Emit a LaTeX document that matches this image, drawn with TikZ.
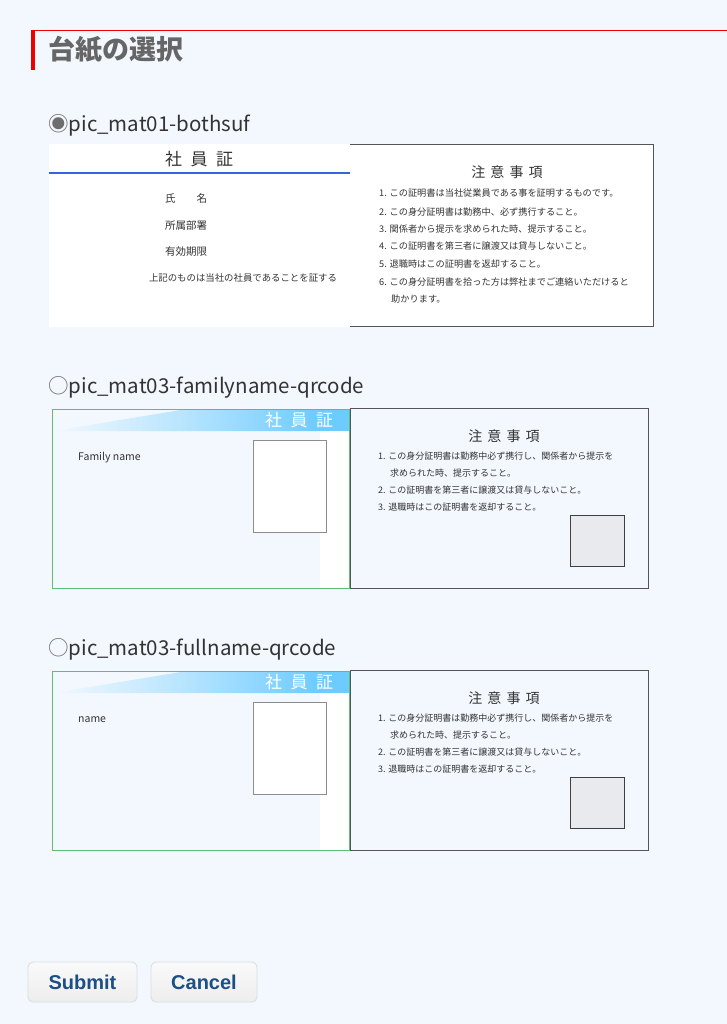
\documentclass[tikz,border=0pt]{standalone}
\usepackage{fontspec}
\setmainfont{Noto Sans CJK JP}
\newfontfamily\btnfont{Liberation Sans}
\newcommand{\fsz}[1]{\fontsize{#1pt}{#1pt}\selectfont}
\definecolor{bg}{RGB}{243,248,254}
\definecolor{txt}{RGB}{51,51,51}
\definecolor{ttl}{RGB}{102,102,102}
\definecolor{radiogray}{RGB}{110,110,110}
\definecolor{redbar}{RGB}{238,0,0}
\definecolor{blueline}{RGB}{51,102,221}
\definecolor{grn}{RGB}{92,190,122}
\definecolor{sky}{RGB}{108,203,255}
\definecolor{qrfill}{RGB}{232,234,238}
\definecolor{btntxt}{RGB}{28,79,134}
\definecolor{btnborder}{RGB}{218,221,225}
\definecolor{cardborder}{RGB}{85,85,85}
\tikzset{
  lbl/.style={anchor=west, inner sep=0, text=txt},
  radio/.style={anchor=west, inner sep=0, text=txt, font=\fsz{20.5}},
  small/.style={anchor=west, inner sep=0, text=txt, font=\fsz{9.2}},
  photobox/.style={draw=gray!90, fill=white, line width=0.9pt},
  qrbox/.style={draw=black!75, fill=qrfill, line width=0.9pt},
  btn/.style={draw=btnborder, line width=0.9pt, rounded corners=5pt, top color=white!98!black, bottom color=black!7, minimum height=40pt, inner sep=0, font=\btnfont\bfseries\fsz{20}, text=btntxt}
}
\begin{document}
\begin{tikzpicture}[x=1pt,y=-1pt]
\useasboundingbox (0,0) rectangle (727,1024);
\fill[bg] (0,0) rectangle (727,1024);
% header
\draw[redbar, line width=0.8pt] (31,30) -- (727,30);
\fill[redbar] (31,30) rectangle (35,70);
\node[lbl, text=ttl, font=\bfseries\fsz{27}] (title) at (48,50) {台紙の選択};

% ---------- option 1 ----------
\node[radio] (opt1) at (48,125.5) {{\color{radiogray}◉}pic\_mat01-bothsuf};
\fill[white] (49,144) rectangle (350,327);
\fill[white] (350,144) rectangle (653,326);
\draw[cardborder, line width=0.9pt] (350,144) -- (653,144) -- (653,326) -- (350,326);
\draw[blueline, line width=1.5pt] (49,173) -- (350,173);
\node[inner sep=0, text=txt, font=\fsz{17}] (c1title) at (199,159) {社\hspace{0.5em}員\hspace{0.5em}証};
\node[lbl, font=\fsz{10.5}] (c1a) at (165,199) {氏　　名};
\node[lbl, font=\fsz{10.5}] (c1b) at (165,226) {所属部署};
\node[lbl, font=\fsz{10.5}] (c1c) at (165,252) {有効期限};
\node[inner sep=0, text=txt, font=\fsz{9.4}] (c1d) at (243,278) {上記のものは当社の社員であることを証する};
\node[inner sep=0, text=txt, font=\fsz{14}] (c1note) at (507,172) {注\hspace{0.36em}意\hspace{0.36em}事\hspace{0.36em}項};
\node[small] (n1) at (379,193) {1. この証明書は当社従業員である事を証明するものです。};
\node[small] (n2) at (379,212) {2. この身分証明書は勤務中、必ず携行すること。};
\node[small] (n3) at (379,229) {3. 関係者から提示を求められた時、提示すること。};
\node[small] (n4) at (379,246) {4. この証明書を第三者に譲渡又は貸与しないこと。};
\node[small] (n5) at (379,264.5) {5. 退職時はこの証明書を返却すること。};
\node[small] (n6) at (379,282) {6. この身分証明書を拾った方は弊社までご連絡いただけると};
\node[small] (n6b) at (391,299) {助かります。};

% ---------- options 2 and 3 ----------
\foreach \k/\dy/\lab/\nm in {2/0/familyname/Family name, 3/262/fullname/name}{
\begin{scope}[shift={(0,\dy)}]
  \node[radio] (opt\k) at (48,387) {{\color{radiogray}○}pic\_mat03-\lab-qrcode};
  % left card
  \fill[white] (320,430) rectangle (349,588);
  \shade[left color=bg, right color=sky, middle color=sky!45!bg] (53,431) -- (187,409) -- (320,409) -- (320,431) -- cycle;
  \fill[sky] (318,409) rectangle (349,431);
  \draw[grn, line width=1pt] (52,409) rectangle (349,588);
  \node[inner sep=0, text=white, font=\fsz{17}] (badge\k) at (299,420) {社\hspace{0.5em}員\hspace{0.5em}証};
  \draw[photobox] (253,440) rectangle (326,532);
  \node[lbl, font=\fsz{10.5}] (name\k) at (78,458) {\nm};
  % right card
  \draw[cardborder, line width=0.9pt] (350.5,408) rectangle (648,588);
  \node[inner sep=0, text=txt, font=\fsz{14}] (note\k) at (504,436) {注\hspace{0.36em}意\hspace{0.36em}事\hspace{0.36em}項};
  \node[small, font=\fsz{9}] (m1\k) at (378,456.5) {1. この身分証明書は勤務中必ず携行し、関係者から提示を};
  \node[small, font=\fsz{9}] (m1b\k) at (390,473.5) {求められた時、提示すること。};
  \node[small, font=\fsz{9}] (m2\k) at (378,490.5) {2. この証明書を第三者に譲渡又は貸与しないこと。};
  \node[small, font=\fsz{9}] (m3\k) at (378,507.5) {3. 退職時はこの証明書を返却すること。};
  \draw[qrbox] (570,515) rectangle (624,566);
\end{scope}
}

% buttons
\node[btn, minimum width=109pt] (submit) at (82.5,982) {Submit};
\node[btn, minimum width=106pt] (cancel) at (204,982) {Cancel};
\end{tikzpicture}
\end{document}
